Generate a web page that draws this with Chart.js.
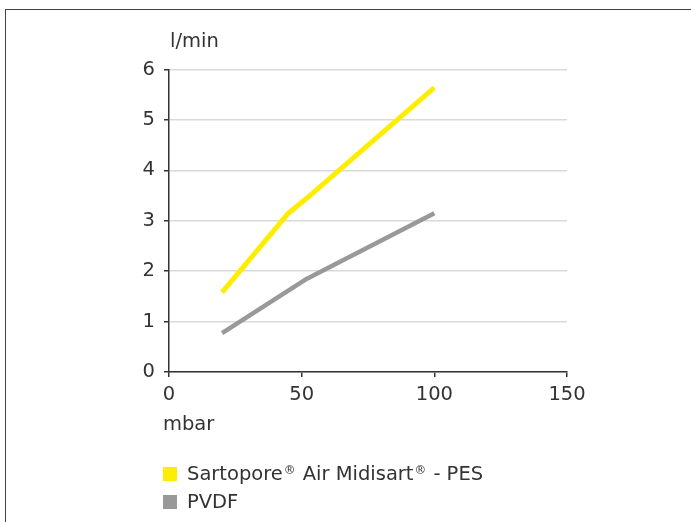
<!DOCTYPE html>
<html>
<head>
<meta charset="utf-8">
<script src="https://cdn.jsdelivr.net/npm/chart.js@4"></script>
<style>
  html, body { margin:0; padding:0; width:691px; height:522px; overflow:hidden; background:#fff; }
  #frame { position:absolute; left:5px; top:9px; width:900px; height:900px; border:1.5px solid #444; box-sizing:border-box; }
  #c { position:absolute; left:0; top:0; }
  .lbl { position:absolute; font-family:"DejaVu Sans", sans-serif; font-size:19.5px; color:#333; white-space:nowrap; line-height:1; }
  .leg { position:absolute; left:163px; font-family:"DejaVu Sans", sans-serif; font-size:19.5px; color:#333; white-space:nowrap; display:flex; align-items:center; line-height:1; }
  .leg .sw { width:14px; height:14px; margin-right:10px; flex:none; }
  .leg sup { font-size:0.6em; vertical-align:0; position:relative; top:-0.55em; margin:0 1px; }
</style>
</head>
<body>
<div id="frame"></div>
<canvas id="c" width="691" height="522"></canvas>
<div class="lbl" id="ytitle" style="left:170px; top:31px;">l/min</div>
<div class="lbl" id="xtitle" style="left:163px; top:414px;">mbar</div>
<div id="legend"></div>
<script>
const seriesNames = ["Sartopore\u00AE Air Midisart\u00AE - PES", "PVDF"];
const seriesColors = ["#ffed00", "#999999"];
const pesX = [20, 45, 52, 100];
const pesY = [1.58, 3.15, 3.45, 5.64];
const pvdfX = [20, 52, 100];
const pvdfY = [0.77, 1.85, 3.15];
const xTicks = [0, 50, 100, 150];
const yTicks = [0, 1, 2, 3, 4, 5, 6];

const toPts = (xs, ys) => xs.map((x, i) => ({ x: x, y: ys[i] }));
const font = { family: "'DejaVu Sans', sans-serif", size: 19.5 };

const chart = new Chart(document.getElementById('c'), {
  type: 'line',
  data: {
    datasets: [
      { label: seriesNames[0], data: toPts(pesX, pesY), borderColor: seriesColors[0], backgroundColor: seriesColors[0], borderWidth: 5, pointRadius: 0, tension: 0, borderCapStyle: 'butt', borderJoinStyle: 'round' },
      { label: seriesNames[1], data: toPts(pvdfX, pvdfY), borderColor: seriesColors[1], backgroundColor: seriesColors[1], borderWidth: 4.5, pointRadius: 0, tension: 0, borderCapStyle: 'butt', borderJoinStyle: 'round' }
    ]
  },
  options: {
    responsive: false,
    animation: false,
    layout: { padding: { left: 0, top: 69.5, right: 124, bottom: 90 } },
    plugins: { legend: { display: false }, tooltip: { enabled: false } },
    scales: {
      x: {
        type: 'linear', min: xTicks[0], max: xTicks[xTicks.length - 1],
        afterBuildTicks: s => { s.ticks = xTicks.map(v => ({ value: v })); },
        afterFit: s => { s.height = 60; },
        grid: { drawOnChartArea: false, drawTicks: true, tickLength: 5, tickColor: '#333', lineWidth: 1.5 },
        border: { color: '#333', width: 1.5 },
        ticks: { font: font, color: '#333', padding: 6, maxRotation: 0 }
      },
      y: {
        type: 'linear', min: yTicks[0], max: yTicks[yTicks.length - 1],
        afterBuildTicks: s => { s.ticks = yTicks.map(v => ({ value: v })); },
        afterFit: s => { s.width = 169; },
        grid: { color: '#d9d9d9', lineWidth: 1.5, drawTicks: true, tickLength: 5, tickColor: '#333' },
        border: { color: '#333', width: 1.5 },
        ticks: { font: font, color: '#333', padding: 9 }
      }
    }
  }
});

const legend = document.getElementById('legend');
chart.data.datasets.forEach((ds, i) => {
  const row = document.createElement('div');
  row.className = 'leg';
  row.style.top = (464 + i * 28) + 'px';
  const sw = document.createElement('span');
  sw.className = 'sw';
  sw.style.background = ds.borderColor;
  const t = document.createElement('span');
  ds.label.split('\u00AE').forEach((part, j, arr) => {
    t.appendChild(document.createTextNode(part));
    if (j < arr.length - 1) {
      const s = document.createElement('sup');
      s.textContent = '\u00AE';
      t.appendChild(s);
    }
  });
  row.appendChild(sw); row.appendChild(t);
  legend.appendChild(row);
});
</script>
</body>
</html>
